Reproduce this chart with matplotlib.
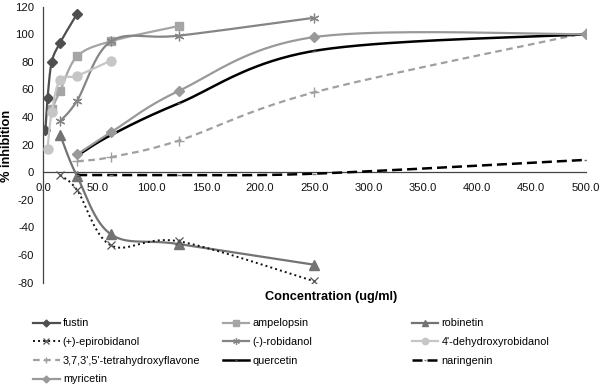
import numpy as np
import matplotlib
matplotlib.use("Agg")
import matplotlib.pyplot as plt
from matplotlib.lines import Line2D

plt.rcParams['font.family'] = ['Liberation Sans', 'DejaVu Sans']

# ---- data ----
fustin_x = [1.95, 3.9, 7.8, 15.6, 31.25]
fustin_y = [31, 54, 80, 94, 115]

ampelopsin_x = [7.8, 15.6, 31.25, 62.5, 125]
ampelopsin_y = [46, 59, 84, 95, 106]

robinetin_x = [15.6, 31.25, 62.5, 125, 250]
robinetin_y = [27, -3, -45, -52, -67]

epirobidanol_x = [15.6, 31.25, 62.5, 125, 250]
epirobidanol_y = [-2, -13, -53, -50, -79]

robidanol_x = [15.6, 31.25, 62.5, 125, 250]
robidanol_y = [37, 52, 95, 99, 112]

dehydroxy_x = [3.9, 7.8, 15.6, 31.25, 62.5]
dehydroxy_y = [17, 44, 67, 70, 81]

tetrahydroxy_x = [31.25, 62.5, 125, 250, 500]
tetrahydroxy_y = [8, 11, 23, 58, 101]

quercetin_x = [31.25, 62.5, 125, 250, 500]
quercetin_y = [12, 27, 50, 88, 100]

naringenin_x = [31.25, 62.5, 125, 250, 500]
naringenin_y = [-2, -2, -2, -1, 9]

myricetin_x = [31.25, 62.5, 125, 250, 500]
myricetin_y = [13, 29, 59, 98, 100]

x_ticks = [0, 50, 100, 150, 200, 250, 300, 350, 400, 450, 500]
y_ticks = [-80, -60, -40, -20, 0, 20, 40, 60, 80, 100, 120]


def smooth(x, y, n=40):
    pts = np.column_stack([x, y]).astype(float)
    P = np.vstack([pts[0], pts, pts[-1]])
    out = []
    t = np.linspace(0, 1, n)[:, None]
    for i in range(1, len(P) - 2):
        p0, p1, p2, p3 = P[i - 1], P[i], P[i + 1], P[i + 2]
        c1 = p1 + (p2 - p0) / 6.0
        c2 = p2 - (p3 - p1) / 6.0
        b = (1 - t) ** 3 * p1 + 3 * (1 - t) ** 2 * t * c1 + 3 * (1 - t) * t ** 2 * c2 + t ** 3 * p2
        out.append(b if i == 1 else b[1:])
    s = np.vstack(out)
    return s[:, 0], s[:, 1]


W, H = 600, 385
fig = plt.figure(figsize=(6, 3.85), dpi=100)
x0, x1 = 43.3, 585.5
ytop, ybot = 6.7, 282.7
ax = fig.add_axes([x0 / W, 1 - ybot / H, (x1 - x0) / W, (ybot - ytop) / H])
ax.set_xlim(0, 500)
ax.set_ylim(-80, 120)

series = [
    ("fustin", fustin_x, fustin_y, dict(color="#4f4f4f", ls="-", lw=1.6), dict(marker="D", ms=5, mfc="#4f4f4f", mec="#4f4f4f")),
    ("ampelopsin", ampelopsin_x, ampelopsin_y, dict(color="#a5a5a5", ls="-", lw=1.6), dict(marker="s", ms=6, mfc="#a5a5a5", mec="#a5a5a5")),
    ("robinetin", robinetin_x, robinetin_y, dict(color="#737373", ls="-", lw=1.6), dict(marker="^", ms=6.5, mfc="#737373", mec="#737373")),
    ("(+)-epirobidanol", epirobidanol_x, epirobidanol_y, dict(color="#111111", ls=(0, (1, 1.6)), lw=1.4), dict(marker="x", ms=6, mfc="none", mec="#555555", mew=0.9)),
    ("(-)-robidanol", robidanol_x, robidanol_y, dict(color="#858585", ls="-", lw=1.6), dict(marker=(6, 2, 0), ms=7, mfc="none", mec="#858585", mew=0.9)),
    ("4'-dehydroxyrobidanol", dehydroxy_x, dehydroxy_y, dict(color="#c6c6c6", ls="-", lw=1.6), dict(marker="o", ms=6.5, mfc="#c6c6c6", mec="#c6c6c6")),
    ("3,7,3',5'-tetrahydroxyflavone", tetrahydroxy_x, tetrahydroxy_y, dict(color="#a0a0a0", ls=(0, (3, 2)), lw=1.6), dict(marker="+", ms=7, mfc="none", mec="#a0a0a0", mew=1.0)),
    ("quercetin", quercetin_x, quercetin_y, dict(color="#000000", ls="-", lw=1.8), dict(marker="_", ms=3, mfc="#555555", mec="#555555", mew=1.0)),
    ("naringenin", naringenin_x, naringenin_y, dict(color="#000000", ls=(0, (4, 2)), lw=1.8), dict(marker="_", ms=3, mfc="#777777", mec="#777777", mew=1.0)),
    ("myricetin", myricetin_x, myricetin_y, dict(color="#999999", ls="-", lw=1.6), dict(marker="D", ms=5, mfc="#999999", mec="#999999")),
]

handles = {}
for i, (name, xs, ys, lst, mst) in enumerate(series):
    sx, sy = smooth(xs, ys)
    ax.plot(sx, sy, zorder=3 + i, solid_capstyle="butt", dash_capstyle="butt", **lst)
    ax.plot(xs, ys, ls="none", zorder=3 + i, **mst)
    handles[name] = Line2D([], [], **lst, **mst)

# axes styling
for s in ["top", "right"]:
    ax.spines[s].set_visible(False)
ax.spines["left"].set_position(("data", 0))
ax.spines["bottom"].set_position(("data", 0))
for s in ["left", "bottom"]:
    ax.spines[s].set_color("#444444")
    ax.spines[s].set_linewidth(0.9)
    ax.spines[s].set_zorder(2)
ax.set_xticks(x_ticks)
ax.set_xticklabels([f"{v:.1f}" for v in x_ticks])
ax.set_yticks(y_ticks)
ax.set_yticklabels([f"{v}" for v in y_ticks])
ax.tick_params(axis="x", length=0, pad=7.5, labelsize=8.1, colors="#111111")
ax.tick_params(axis="y", length=0, pad=6.5, labelsize=8.1, colors="#111111")
ax.patch.set_visible(False)

fig.text(331 / W, 1 - 296.7 / H, "Concentration (ug/ml)", ha="center", va="center",
         fontsize=9.2, fontweight="bold")
fig.text(7.5 / W, 1 - 146 / H, "% inhibition", ha="center", va="center",
         rotation=90, fontsize=9.2, fontweight="bold")

cols = [
    (33, ["fustin", "(+)-epirobidanol", "3,7,3',5'-tetrahydroxyflavone", "myricetin"]),
    (222.7, ["ampelopsin", "(-)-robidanol", "quercetin"]),
    (411.7, ["robinetin", "4'-dehydroxyrobidanol", "naringenin"]),
]
for xpos, names in cols:
    fig.legend([handles[n] for n in names], names, loc="upper left",
               bbox_to_anchor=(xpos / W, 1 - 318.5 / H), frameon=False,
               fontsize=7.8, handlelength=2.45, handletextpad=0.3,
               borderpad=0, borderaxespad=0, labelspacing=0.8, markerscale=0.7)

fig.savefig("out.png", dpi=100)
